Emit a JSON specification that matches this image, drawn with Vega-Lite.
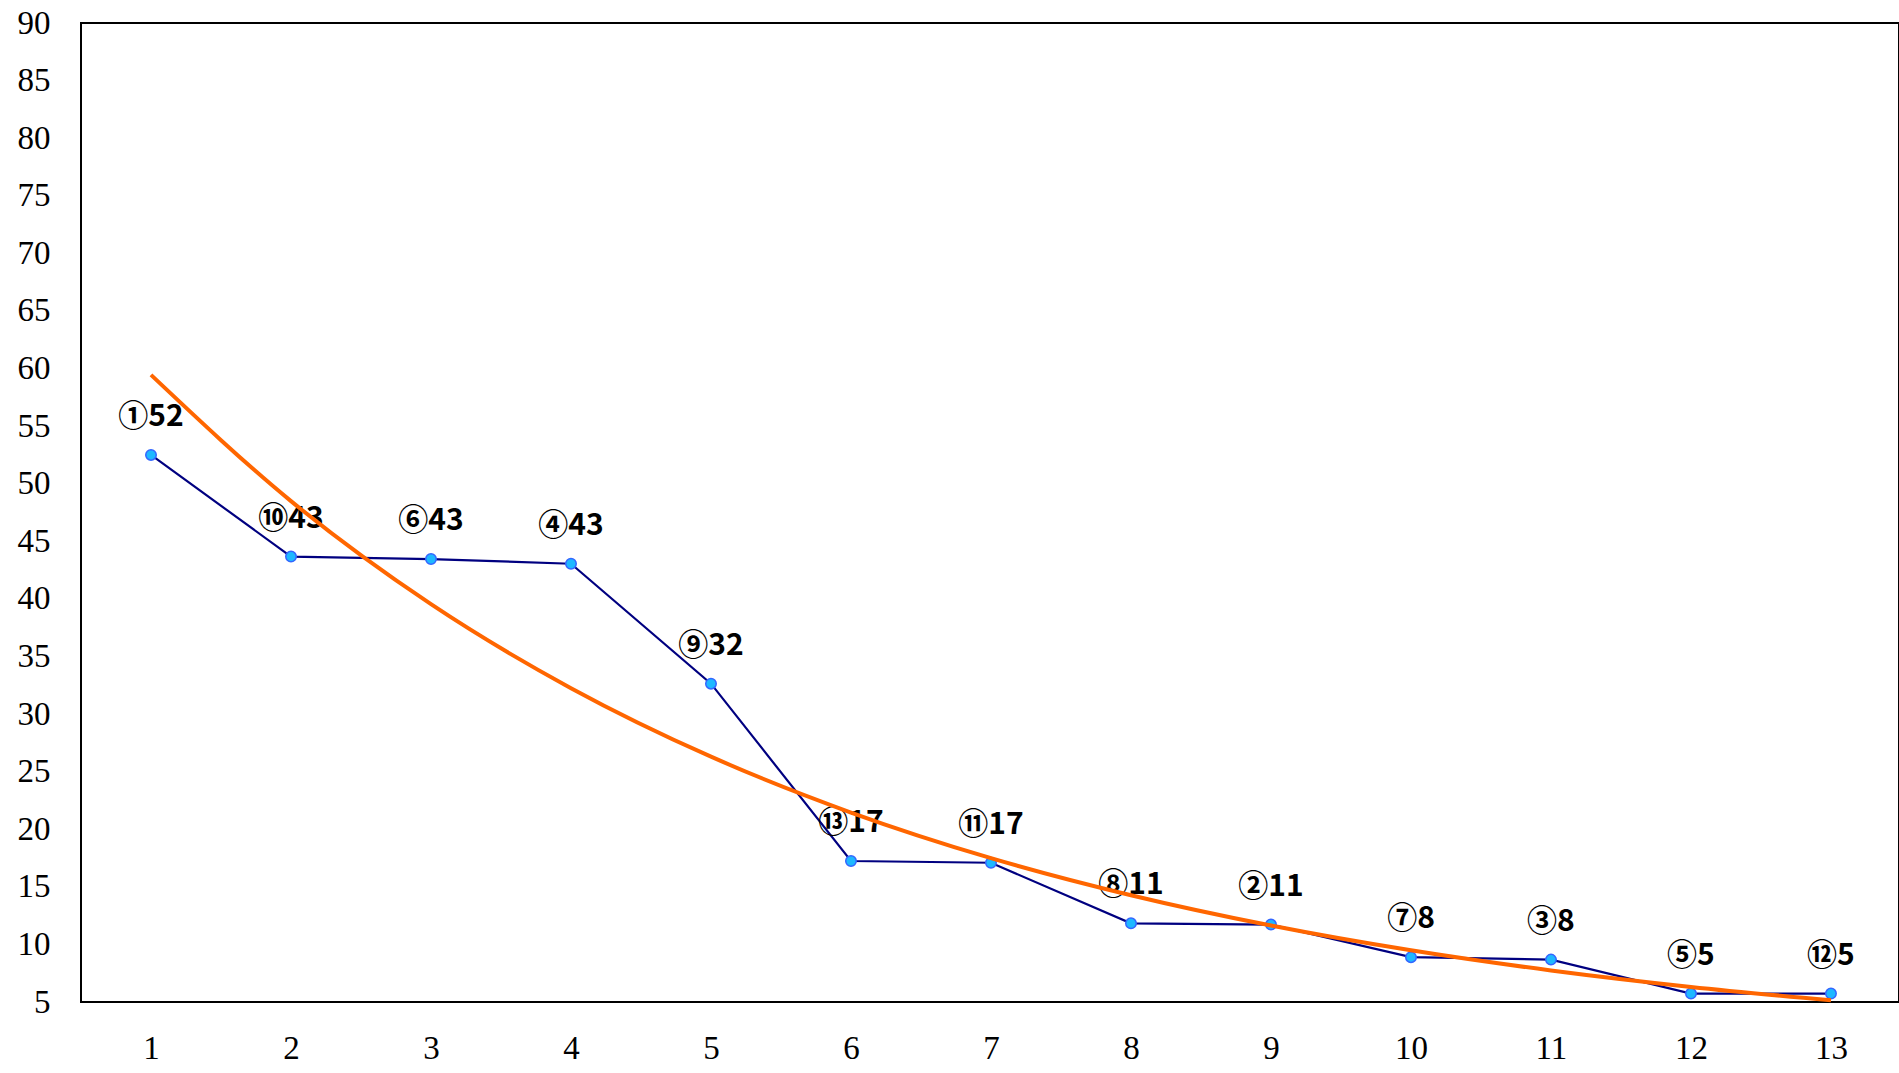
{
  "$schema": "https://vega.github.io/schema/vega-lite/v6.json",
  "width": 1818,
  "height": 979,
  "autosize": {"type": "none"},
  "padding": {"left": 81, "top": 23, "right": 0, "bottom": 71},
  "background": "white",
  "config": {
    "view": {"stroke": "black", "strokeWidth": 2},
    "axis": {
      "grid": false,
      "domain": false,
      "ticks": false,
      "tickSize": 0,
      "title": null,
      "labelFont": "Liberation Serif",
      "labelFontSize": 33,
      "labelColor": "black"
    }
  },
  "datasets": {
    "main": [
      {"rank": 1, "value": 52.5, "label": "①52"},
      {"rank": 2, "value": 43.67, "label": "⑩43"},
      {"rank": 3, "value": 43.46, "label": "⑥43"},
      {"rank": 4, "value": 43.05, "label": "④43"},
      {"rank": 5, "value": 32.64, "label": "⑨32"},
      {"rank": 6, "value": 17.24, "label": "⑬17"},
      {"rank": 7, "value": 17.09, "label": "⑪17"},
      {"rank": 8, "value": 11.83, "label": "⑧11"},
      {"rank": 9, "value": 11.72, "label": "②11"},
      {"rank": 10, "value": 8.89, "label": "⑦8"},
      {"rank": 11, "value": 8.68, "label": "③8"},
      {"rank": 12, "value": 5.73, "label": "⑤5"},
      {"rank": 13, "value": 5.73, "label": "⑫5"}
    ],
    "trend": [
      {"rank": 1, "value": 59.45},
      {"rank": 2, "value": 48.49},
      {"rank": 3, "value": 39.54},
      {"rank": 4, "value": 32.25},
      {"rank": 5, "value": 26.3},
      {"rank": 6, "value": 21.45},
      {"rank": 7, "value": 17.49},
      {"rank": 8, "value": 14.27},
      {"rank": 9, "value": 11.64},
      {"rank": 10, "value": 9.49},
      {"rank": 11, "value": 7.74},
      {"rank": 12, "value": 6.31},
      {"rank": 13, "value": 5.15}
    ]
  },
  "encoding": {
    "x": {
      "field": "rank",
      "type": "quantitative",
      "scale": {"domain": [0.5, 13.486], "nice": false, "zero": false},
      "axis": {"values": [1,2,3,4,5,6,7,8,9,10,11,12,13], "labelPadding": 30, "format": "d"}
    },
    "y": {
      "field": "value",
      "type": "quantitative",
      "scale": {"domain": [5, 90], "nice": false, "zero": false},
      "axis": {"values": [5,10,15,20,25,30,35,40,45,50,55,60,65,70,75,80,85,90], "labelPadding": 31, "format": "d"}
    }
  },
  "layer": [
    {
      "data": {"name": "main"},
      "mark": {"type": "line", "color": "#000080", "strokeWidth": 2.2}
    },
    {
      "data": {"name": "main"},
      "mark": {"type": "point", "filled": true, "size": 110, "fill": "#1EB8FF", "stroke": "#3366FF", "strokeWidth": 1.5, "opacity": 1}
    },
    {
      "data": {"name": "main"},
      "mark": {"type": "text", "font": "Noto Sans CJK JP", "fontWeight": "bold", "fontSize": 30, "color": "black", "baseline": "middle", "align": "center", "dy": -38},
      "encoding": {"text": {"field": "label"}}
    },
    {
      "data": {"name": "trend"},
      "mark": {"type": "line", "color": "#FF6600", "strokeWidth": 4, "interpolate": "monotone"}
    }
  ]
}
